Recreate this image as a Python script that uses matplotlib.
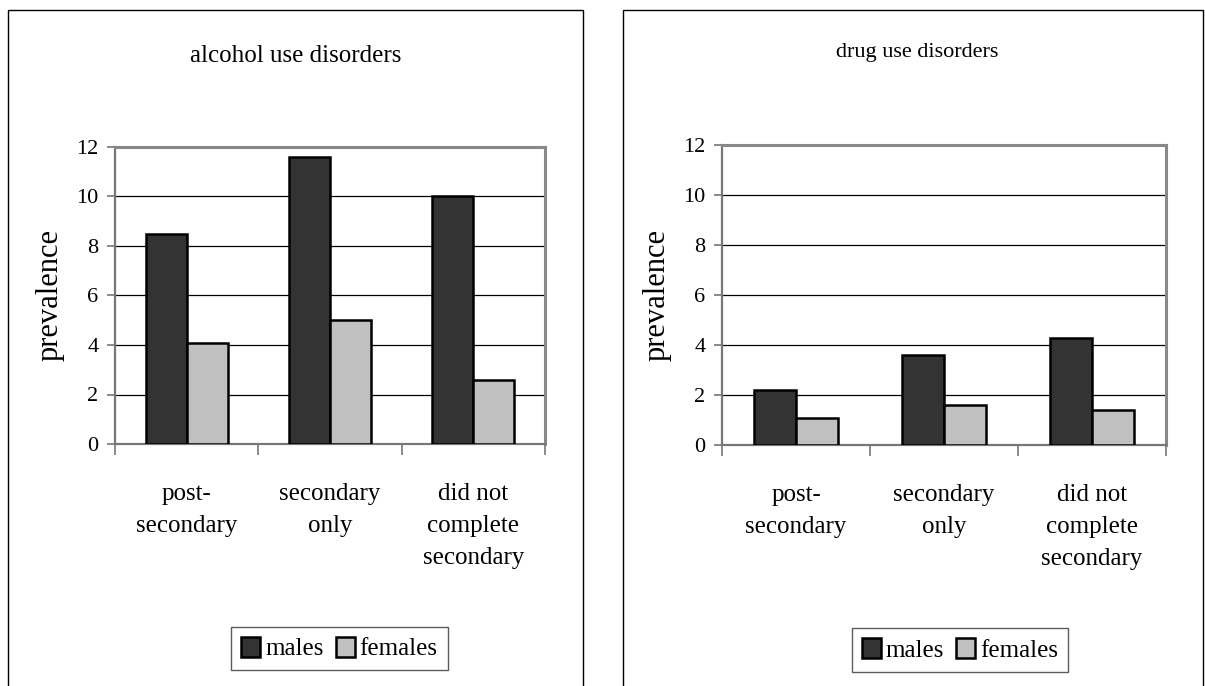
import numpy as np
import matplotlib
matplotlib.use("Agg")
import matplotlib.pyplot as plt
from matplotlib.patches import Rectangle, Patch

plt.rcParams["font.family"] = ["Liberation Serif", "DejaVu Serif"]

categories = ["post-\nsecondary", "secondary\nonly", "did not\ncomplete\nsecondary"]
series_names = ["males", "females"]
alcohol_males = [8.5, 11.6, 10.0]
alcohol_females = [4.1, 5.0, 2.6]
drug_males = [2.2, 3.6, 4.3]
drug_females = [1.1, 1.6, 1.4]
y_ticks = [0, 2, 4, 6, 8, 10, 12]

male_color = "#333333"
female_color = "#c0c0c0"
spine_color = "#777777"

W, H = 1205, 686
fig = plt.figure(figsize=(W / 100, H / 100), dpi=100)


def fx(px):
    return px / W


def fy(py):
    return 1 - py / H


def panel(box, ax_box, title, title_pos, title_size, males, females, leg_pos):
    # outer frame of the chart object
    x0, y0, x1, y1 = box
    fig.add_artist(Rectangle((fx(x0), fy(y1)), fx(x1 - x0), (y1 - y0) / H,
                             transform=fig.transFigure, fill=False,
                             edgecolor="black", linewidth=1.0))
    l, t, r, b = ax_box
    ax = fig.add_axes([fx(l), fy(b), fx(r - l), (b - t) / H])

    x = np.arange(len(categories))
    w = 0.286
    ax.bar(x - w / 2, males, w, color=male_color, edgecolor="black",
           linewidth=1.8, zorder=3)
    ax.bar(x + w / 2, females, w, color=female_color, edgecolor="black",
           linewidth=1.8, zorder=3)

    ax.set_xlim(-0.5, len(categories) - 0.5)
    ax.set_ylim(0, 12)
    ax.set_yticks(y_ticks)
    ax.set_yticklabels([str(v) for v in y_ticks], fontsize=16)
    ax.yaxis.grid(True, color="black", linewidth=0.9, zorder=0)
    ax.set_axisbelow(True)

    ax.set_xticks(np.arange(len(categories) + 1) - 0.5)
    ax.set_xticklabels([])
    ax.set_xticks(x, minor=True)
    ax.set_xticklabels(categories, minor=True, fontsize=18, linespacing=1.6)
    ax.tick_params(axis="x", which="minor", length=0, pad=28)
    ax.tick_params(axis="x", which="major", length=8, width=1.2,
                   color=spine_color, direction="out")
    ax.tick_params(axis="y", length=6, width=1.2, color=spine_color,
                   pad=6)

    for side in ["top", "right"]:
        ax.spines[side].set_color("#888888")
        ax.spines[side].set_linewidth(2.2)
    ax.spines["left"].set_color(spine_color)
    ax.spines["left"].set_linewidth(1.6)
    ax.spines["bottom"].set_color(spine_color)
    ax.spines["bottom"].set_linewidth(1.6)

    ax.set_ylabel("prevalence", fontsize=22, labelpad=8)

    fig.text(fx(title_pos[0]), fy(title_pos[1]), title, fontsize=title_size,
             ha="center", va="baseline")

    handles = [Patch(facecolor=male_color, edgecolor="black", linewidth=1.8),
               Patch(facecolor=female_color, edgecolor="black", linewidth=1.8)]
    leg = fig.legend(handles, series_names, loc="center",
                     bbox_to_anchor=(fx(leg_pos[0]), fy(leg_pos[1])),
                     ncol=2, fontsize=18, frameon=True, fancybox=False,
                     handlelength=0.75, handleheight=0.85, handletextpad=0.2,
                     columnspacing=0.5, borderpad=0.4, borderaxespad=0)
    leg.get_frame().set_edgecolor("#333333")
    leg.get_frame().set_linewidth(1.0)
    return ax


panel((8, 10, 583, 700), (115, 147, 545, 444), "alcohol use disorders",
      (296, 62), 18, alcohol_males, alcohol_females, (339.5, 648.5))
panel((623, 10, 1203, 700), (722, 145, 1166, 445), "drug use disorders",
      (917.5, 57), 16, drug_males, drug_females, (960, 650))

fig.savefig("out.png", dpi=100, facecolor="white")
